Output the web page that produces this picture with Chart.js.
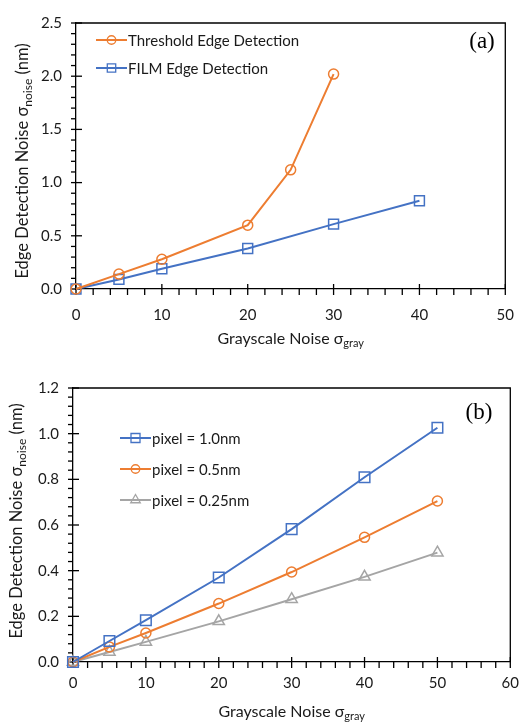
<!DOCTYPE html>
<html>
<head>
    <title>Edge detection noise</title>
    <script src="https://cdn.jsdelivr.net/npm/chart.js"></script>
    <style>
        body { margin: 0; background: #fff; }
        .panel { position: absolute; left: 0; width: 531px; }
    </style>
</head>
<body>
    <div class="panel" style="top:0; height:360px;"><canvas id="chartA"></canvas></div>
    <div class="panel" style="top:360px; height:364px;"><canvas id="chartB"></canvas></div>
    <script>
        // (a) threshold vs FILM edge detection
        const thresholdGray = [0, 5, 10, 20, 25, 30];
        const thresholdNoise = [0, 0.14, 0.28, 0.60, 1.12, 2.02];
        const filmGray = [0, 5, 10, 20, 30, 40];
        const filmNoise = [0, 0.09, 0.19, 0.38, 0.61, 0.83];

        // (b) FILM for different pixel sizes
        const pixelGray = [0, 5, 10, 20, 30, 40, 50];
        const pixel10 = [0, 0.092, 0.183, 0.370, 0.582, 0.809, 1.026];
        const pixel05 = [0, 0.066, 0.127, 0.256, 0.394, 0.546, 0.705];
        const pixel025 = [0, 0.044, 0.088, 0.178, 0.275, 0.373, 0.479];

        const ORANGE = '#ED7D31';
        const BLUE = '#4472C4';
        const GRAY = '#A5A5A5';
        const FONT = 'Lato';
        const TEXT = '#1a1a1a';

        function pts(xs, ys) {
            return xs.map((x, i) => ({ x: x, y: ys[i] }));
        }

        function series(label, xs, ys, color, style, radius) {
            return {
                label: label,
                data: pts(xs, ys),
                borderColor: color,
                borderWidth: 2,
                pointStyle: style,
                pointRadius: radius,
                pointHoverRadius: radius,
                pointBorderColor: color,
                pointBorderWidth: 1.5,
                pointBackgroundColor: 'rgba(0,0,0,0)',
                showLine: true,
                tension: 0,
                clip: false
            };
        }

        // draw a marker the same way for legend
        function marker(ctx, style, r, x, y) {
            ctx.beginPath();
            if (style === 'circle') {
                ctx.arc(x, y, r, 0, Math.PI * 2);
            } else if (style === 'rect') {
                const s = r * Math.SQRT1_2;
                ctx.rect(x - s, y - s, 2 * s, 2 * s);
            } else if (style === 'triangle') {
                let a = 0;
                ctx.moveTo(x + Math.sin(a) * r, y - Math.cos(a) * r);
                a += Math.PI * 2 / 3;
                ctx.lineTo(x + Math.sin(a) * r, y - Math.cos(a) * r);
                a += Math.PI * 2 / 3;
                ctx.lineTo(x + Math.sin(a) * r, y - Math.cos(a) * r);
                ctx.closePath();
            }
            ctx.stroke();
        }

        // text with a subscript part: parts = [[text, isSub], ...]
        function subText(ctx, parts, cx, cy, size) {
            const subSize = Math.round(size * 0.7);
            let total = 0;
            parts.forEach(p => {
                ctx.font = (p[1] ? subSize : size) + 'px ' + FONT;
                total += ctx.measureText(p[0]).width;
            });
            let x = cx - total / 2;
            ctx.textBaseline = 'middle';
            ctx.textAlign = 'left';
            parts.forEach(p => {
                ctx.font = (p[1] ? subSize : size) + 'px ' + FONT;
                ctx.fillText(p[0], x, p[1] ? cy + size * 0.3 : cy);
                x += ctx.measureText(p[0]).width;
            });
        }

        const frame = {
            id: 'frame',
            beforeDatasetsDraw(chart, args, o) {
                const { ctx, chartArea: a, scales: { x, y } } = chart;
                ctx.save();
                ctx.strokeStyle = '#000';
                ctx.lineWidth = 1.3;
                // top and right sides of the box
                ctx.beginPath();
                ctx.moveTo(a.left, a.top);
                ctx.lineTo(a.right, a.top);
                ctx.lineTo(a.right, a.bottom);
                ctx.stroke();
                // x ticks: major crossing, minor outside
                for (let v = x.min; v <= x.max + 1e-9; v += o.xMinor) {
                    const px = x.getPixelForValue(v);
                    const major = Math.abs(v / o.xMajor - Math.round(v / o.xMajor)) < 1e-6;
                    ctx.beginPath();
                    ctx.moveTo(px, a.bottom + 6);
                    ctx.lineTo(px, major ? a.bottom - 5 : a.bottom);
                    ctx.stroke();
                }
                for (let v = y.min; v <= y.max + 1e-9; v += o.yMinor) {
                    const py = y.getPixelForValue(v);
                    const major = Math.abs(v / o.yMajor - Math.round(v / o.yMajor)) < 1e-6;
                    ctx.beginPath();
                    ctx.moveTo(a.left - 5, py);
                    ctx.lineTo(major ? a.left + 6 : a.left, py);
                    ctx.stroke();
                }
                ctx.restore();
            },
            afterDraw(chart, args, o) {
                const { ctx, chartArea: a } = chart;
                ctx.save();
                ctx.fillStyle = TEXT;
                // axis titles with subscripts
                subText(ctx, [['Grayscale Noise σ', false], ['gray', true]], (a.left + a.right) / 2, o.xTitleY, 16);
                ctx.save();
                ctx.translate(o.yTitleX, o.yTitleY);
                ctx.rotate(-Math.PI / 2);
                subText(ctx, [['Edge Detection Noise σ', false], ['noise', true], [' (nm)', false]], 0, 0, 16.5);
                ctx.restore();
                // panel label
                ctx.font = '23px "Liberation Serif"';
                ctx.textAlign = 'center';
                ctx.textBaseline = 'middle';
                ctx.fillStyle = '#000';
                ctx.fillText(o.panel, o.panelX, o.panelY);
                // legend: line + marker + text
                chart.data.datasets.forEach((ds, i) => {
                    const ly = o.legendY + i * o.legendGap;
                    const lx = o.legendX;
                    ctx.strokeStyle = ds.borderColor;
                    ctx.lineWidth = 2;
                    ctx.beginPath();
                    ctx.moveTo(lx, ly);
                    ctx.lineTo(lx + 31, ly);
                    ctx.stroke();
                    ctx.lineWidth = 1.3;
                    marker(ctx, ds.pointStyle, ds.pointRadius * 0.85, lx + 15.5, ly);
                    ctx.fillStyle = TEXT;
                    ctx.font = '15px ' + FONT;
                    ctx.textAlign = 'left';
                    ctx.fillText(ds.label, lx + 32, ly + 1);
                });
                ctx.restore();
            }
        };

        function makeOptions(xMax, yMax, yStep, plotLeft, xAxisH, xPad, pad, frameOpts) {
            return {
                responsive: true,
                maintainAspectRatio: false,
                animation: false,
                layout: { padding: pad },
                plugins: {
                    legend: { display: false },
                    tooltip: { enabled: false },
                    frame: frameOpts
                },
                scales: {
                    x: {
                        type: 'linear',
                        min: 0,
                        max: xMax,
                        grid: { display: false, drawTicks: false },
                        border: { display: true, color: '#000', width: 1.3 },
                        ticks: { stepSize: 10, padding: xPad, color: TEXT, font: { family: FONT, size: 15 } },
                        afterFit: s => { s.height = xAxisH; }
                    },
                    y: {
                        min: 0,
                        max: yMax,
                        grid: { display: false, drawTicks: false },
                        border: { display: true, color: '#000', width: 1.3 },
                        ticks: {
                            stepSize: yStep,
                            padding: 14,
                            color: TEXT,
                            font: { family: FONT, size: 15 },
                            callback: v => v.toFixed(1)
                        },
                        afterFit: s => { s.width = plotLeft; }
                    }
                }
            };
        }

        new Chart(document.getElementById('chartA'), {
            type: 'line',
            data: {
                datasets: [
                    series('Threshold Edge Detection', thresholdGray, thresholdNoise, ORANGE, 'circle', 5),
                    series('FILM Edge Detection', filmGray, filmNoise, BLUE, 'rect', 7)
                ]
            },
            options: makeOptions(50, 2.5, 0.5, 76, 71, 17, { top: 15, right: 19, left: 0, bottom: 0 }, {
                xMinor: 2, xMajor: 10, yMinor: 0.1, yMajor: 0.5,
                xTitleY: 339, yTitleX: 23, yTitleY: 161,
                panel: '(a)', panelX: 482, panelY: 42,
                legendX: 96, legendY: 40, legendGap: 28
            }),
            plugins: [frame]
        });

        new Chart(document.getElementById('chartB'), {
            type: 'line',
            data: {
                datasets: [
                    series('pixel = 1.0nm', pixelGray, pixel10, BLUE, 'rect', 7.5),
                    series('pixel = 0.5nm', pixelGray, pixel05, ORANGE, 'circle', 5),
                    series('pixel = 0.25nm', pixelGray, pixel025, GRAY, 'triangle', 6.5)
                ]
            },
            options: makeOptions(60, 1.2, 0.2, 73, 62, 12, { top: 28, right: 16, left: 0, bottom: 0 }, {
                xMinor: 2, xMajor: 10, yMinor: 0.04, yMajor: 0.2,
                xTitleY: 352, yTitleX: 17, yTitleY: 161,
                panel: '(b)', panelX: 479, panelY: 53,
                legendX: 120, legendY: 78, legendGap: 31
            }),
            plugins: [frame]
        });
    </script>
</body>
</html>
